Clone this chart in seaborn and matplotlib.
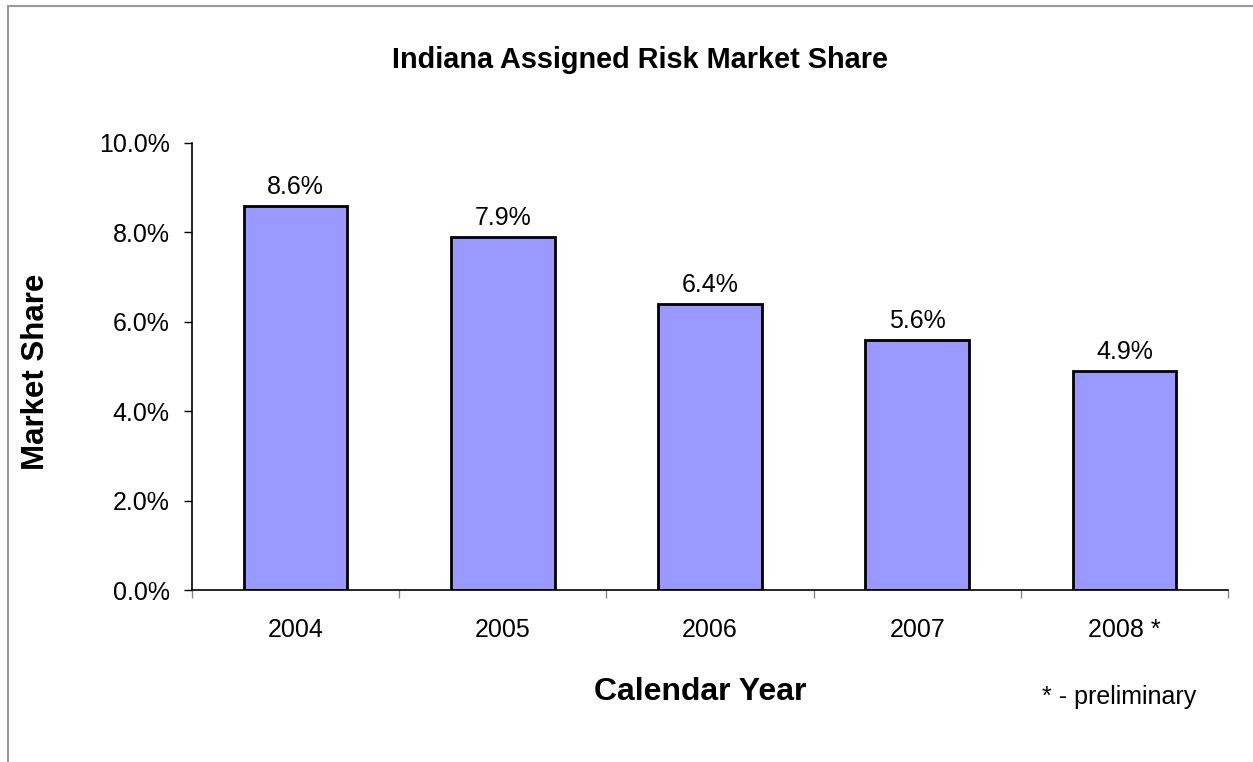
import matplotlib
matplotlib.use("Agg")
import matplotlib.pyplot as plt
import seaborn as sns
import pandas as pd
from matplotlib.ticker import FuncFormatter, FixedLocator, NullFormatter
from matplotlib.lines import Line2D

years = ["2004", "2005", "2006", "2007", "2008 *"]
share = [8.6, 7.9, 6.4, 5.6, 4.9]
y_ticks = [0.0, 2.0, 4.0, 6.0, 8.0, 10.0]

sns.set_theme(style="white")
plt.rcParams["font.family"] = ["Liberation Sans", "DejaVu Sans"]
plt.rcParams["text.color"] = "black"
plt.rcParams["xtick.color"] = "black"
plt.rcParams["ytick.color"] = "black"

df = pd.DataFrame({"year": years, "share": share})

fig = plt.figure(figsize=(12.53, 7.62), dpi=100)
ax = fig.add_axes([192 / 1253, 1 - 590 / 762, (1228 - 192) / 1253, (590 - 143) / 762])

sns.barplot(data=df, x="year", y="share", color="#9999FF", saturation=1,
            width=0.5, edgecolor="black", linewidth=2, ax=ax)

ax.set_xlim(-0.5, len(years) - 0.5)
ax.set_ylim(0, 10)
ax.set_yticks(y_ticks)
ax.yaxis.set_major_formatter(FuncFormatter(lambda v, p: f"{v:.1f}%"))
ax.tick_params(axis="y", which="both", left=True, length=6, width=1, color="black",
               labelsize=18, pad=10, labelcolor="black")
ax.tick_params(axis="x", which="major", bottom=False, labelsize=18, pad=14, labelcolor="black")
ax.xaxis.set_minor_locator(FixedLocator([i - 0.5 for i in range(len(years) + 1)]))
ax.xaxis.set_minor_formatter(NullFormatter())
ax.tick_params(axis="x", which="minor", bottom=True, length=6, width=1, color="#888888")

for s in ["top", "right"]:
    ax.spines[s].set_visible(False)
for s in ["left", "bottom"]:
    ax.spines[s].set_color("black")
    ax.spines[s].set_linewidth(1.2)

for i, v in enumerate(share):
    ax.text(i, v + 0.15, f"{v:.1f}%", ha="center", va="bottom", fontsize=18, color="black")

ax.set_xlabel("")
ax.set_ylabel("")
fig.text(640 / 1253, 1 - 60 / 762, "Indiana Assigned Risk Market Share", ha="center",
         va="center", fontsize=20.8, fontweight="bold")
fig.text(36 / 1253, 1 - 372 / 762, "Market Share", ha="center", va="center",
         rotation=90, fontsize=22.5, fontweight="bold")
fig.text(700 / 1253, 1 - 692 / 762, "Calendar Year", ha="center", va="center",
         fontsize=23, fontweight="bold")
fig.text(1119 / 1253, 1 - 697 / 762, "* - preliminary", ha="center", va="center",
         fontsize=18)

# chart frame edges
fig.add_artist(Line2D([8 / 1253, 8 / 1253], [0, 1 - 6 / 762], color="#999999", lw=1.5,
                      transform=fig.transFigure))
fig.add_artist(Line2D([8 / 1253, 1], [1 - 6 / 762, 1 - 6 / 762], color="#999999", lw=1.5,
                      transform=fig.transFigure))

fig.savefig("out.png", dpi=100, facecolor="white")
